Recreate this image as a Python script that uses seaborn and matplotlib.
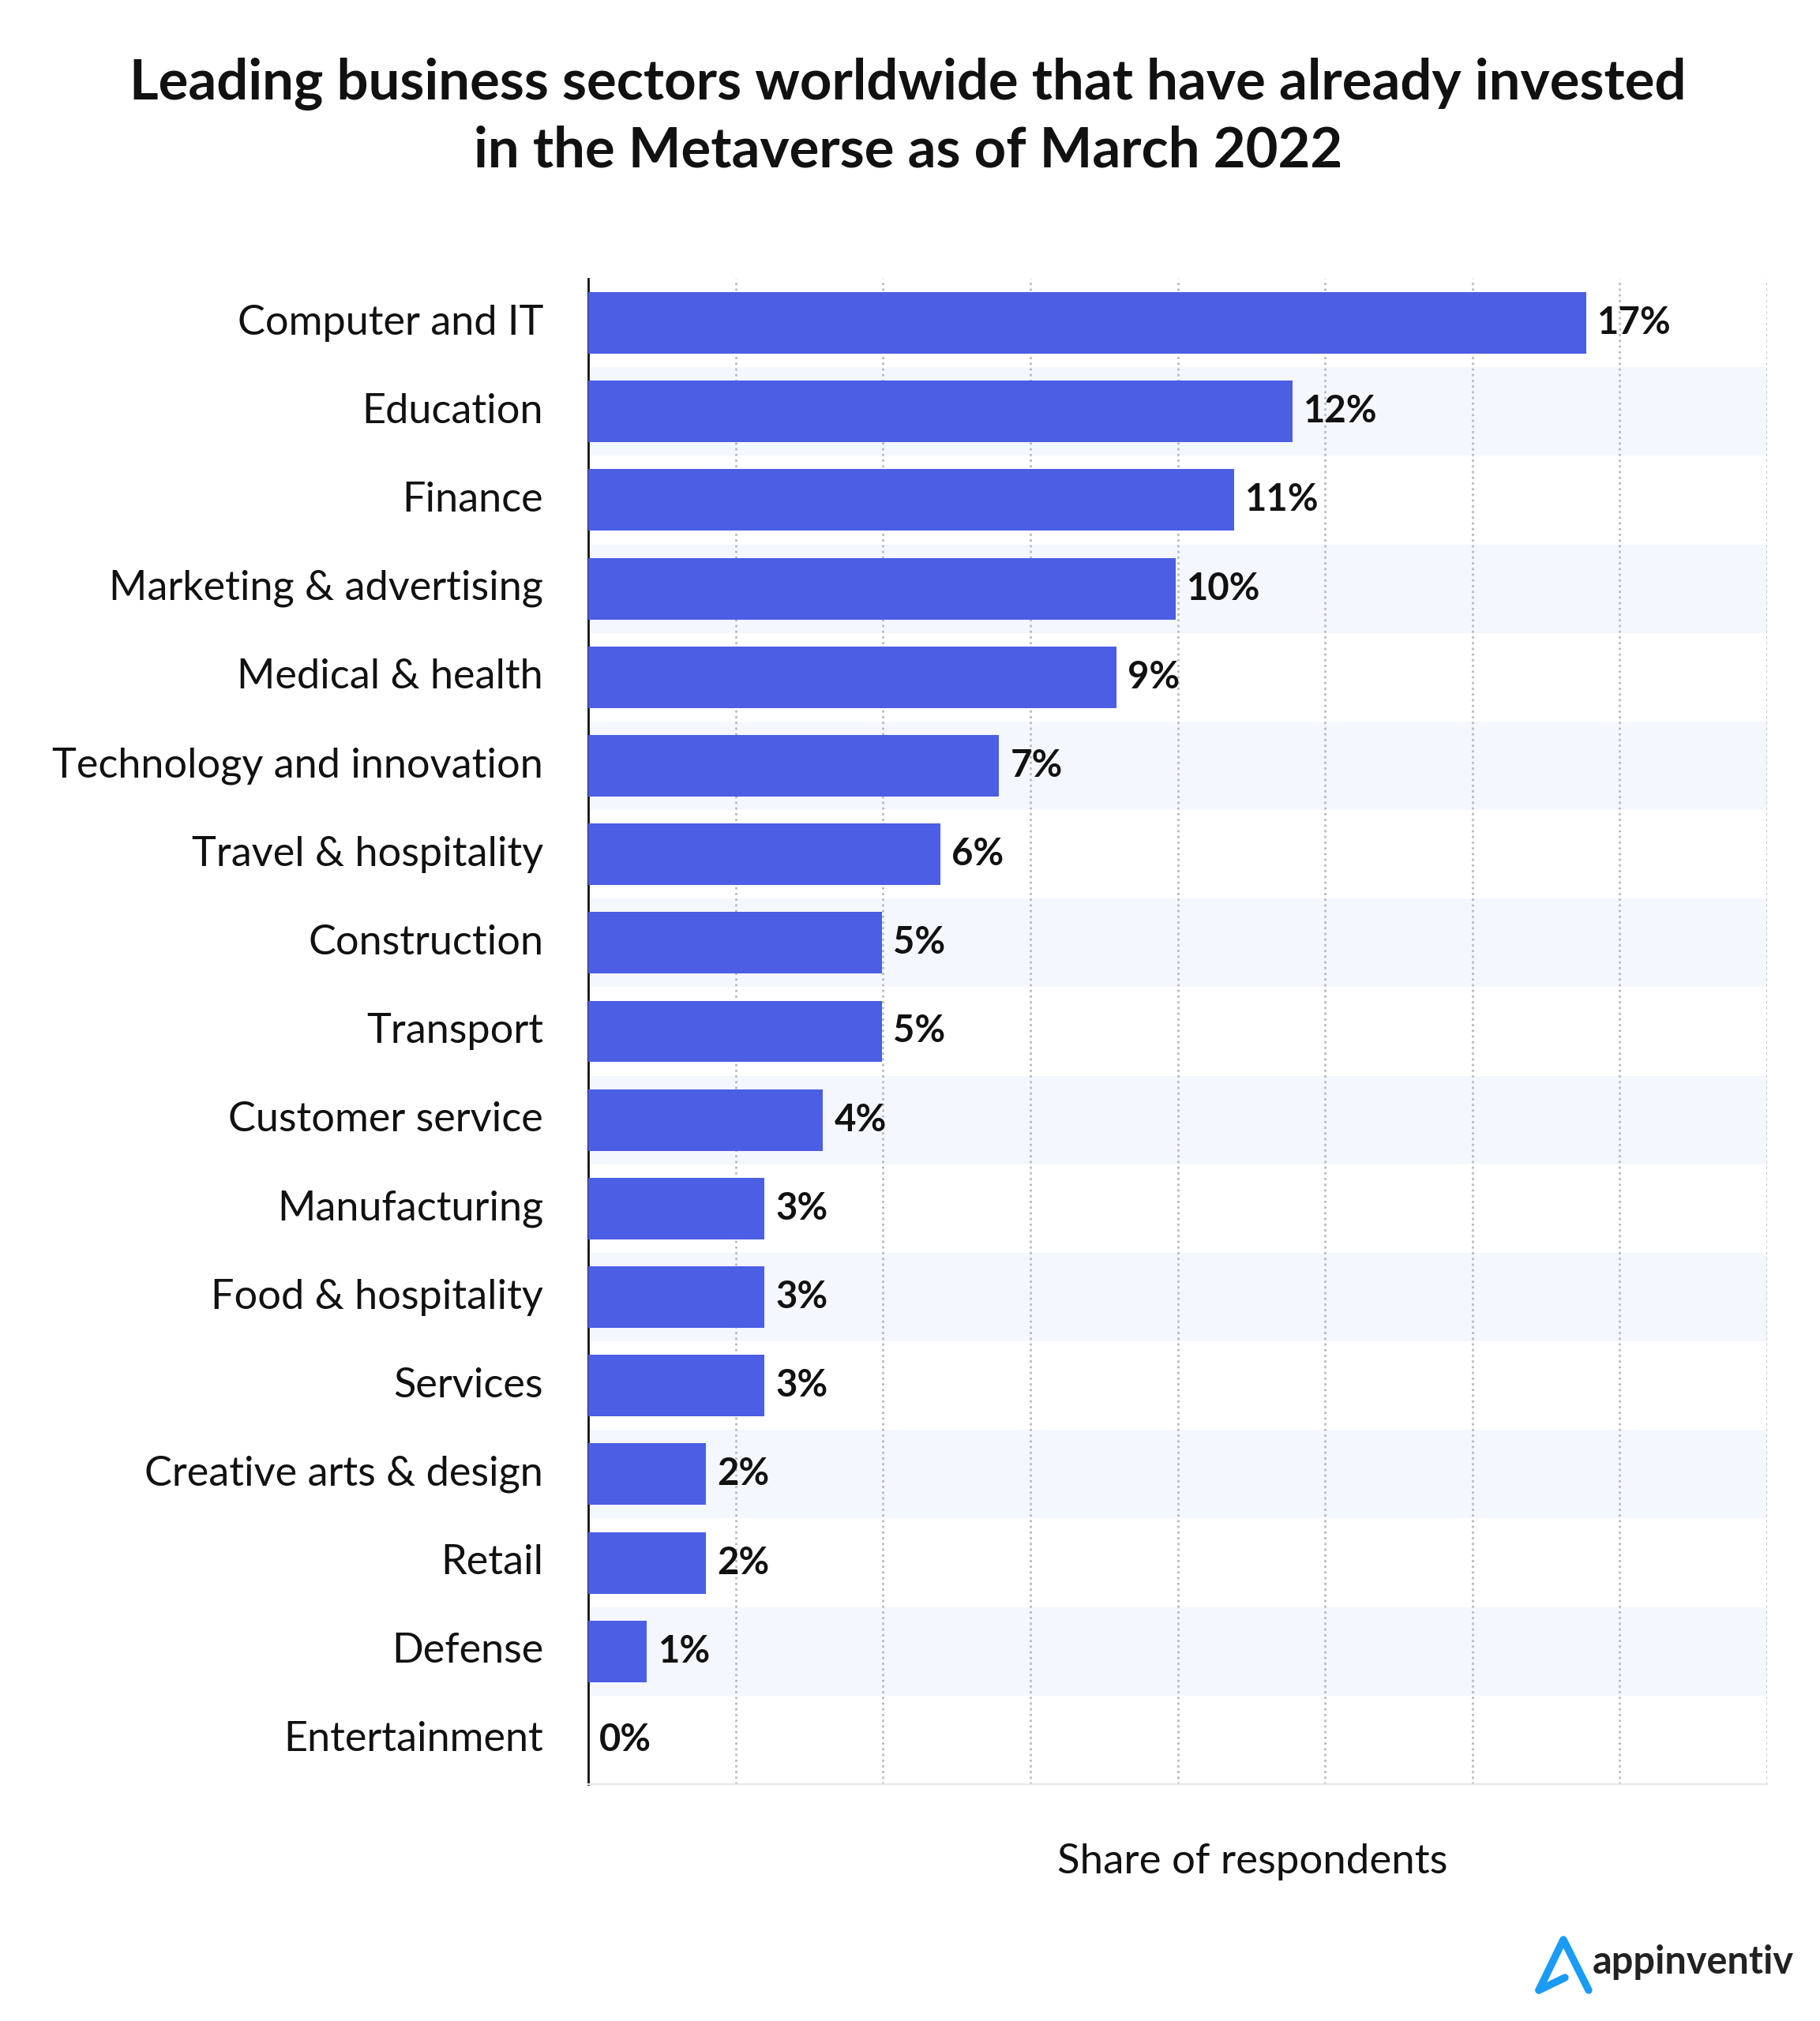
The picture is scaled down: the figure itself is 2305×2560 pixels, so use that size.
# -*- coding: utf-8 -*-

import numpy as np
import pandas as pd
import matplotlib.pylab as plt
import seaborn as sns

# %%

sectors = ['Computer and IT', 'Education', 'Finance', 'Marketing & advertising',
           'Medical & health', 'Technology and innovation', 'Travel & hospitality',
           'Construction', 'Transport', 'Customer service', 'Manufacturing',
           'Food & hospitality', 'Services', 'Creative arts & design', 'Retail',
           'Defense', 'Entertainment']
share = [17, 12, 11, 10, 9, 7, 6, 5, 5, 4, 3, 3, 3, 2, 2, 1, 0]

title = 'Leading business sectors worldwide that have already invested\nin the Metaverse as of March 2022'

data = pd.DataFrame({'sector': sectors, 'share': share})

# %% PLOT

sns.set(style='white', font_scale=1)
plt.rcParams['font.family'] = ['Lato', 'DejaVu Sans']

plt.figure(figsize=(23.05, 25.6), dpi=100)
plt.subplots_adjust(left=745/2305, right=2238/2305, top=1-353/2560, bottom=1-2260/2560)

x_max = 20.08

sns.barplot(data=data, x='share', y='sector', color='#4B5EE4', saturation=1,
            width=0.695, zorder=3, linewidth=0)

# stripes behind every second row
for row in range(1, len(sectors), 2):
    plt.axhspan(row-0.5, row+0.5, color='#F5F7FE', lw=0, zorder=0)

# dotted grid
for g in np.linspace(0, x_max, 9)[1:]:
    plt.axvline(g, color='#B9B9BE', lw=2, ls=(0, (1, 1.6)), zorder=1)

for i, v in enumerate(share):
    plt.text(v + 0.19, i, str(v) + '%', va='center', ha='left', fontsize=34,
             fontweight='bold', color='#111111', zorder=4)

plt.xlim(0, x_max)
plt.ylim(len(sectors)-0.5, -0.5)
plt.xticks([])
plt.yticks(va='center')
plt.tick_params(axis='y', length=0, pad=41, labelsize=37.6, labelcolor='#111111')
plt.ylabel('')
plt.xlabel('Share of respondents', fontsize=38, color='#111111', labelpad=54,
           x=(1586-745)/1493)

sns.despine(top=True, right=True)
plt.gca().spines['left'].set_color('#111111')
plt.gca().spines['left'].set_linewidth(2)
plt.gca().spines['bottom'].set_color('#E6E6E6')
plt.gca().spines['bottom'].set_linewidth(1.5)

plt.figtext(1150/2305, 1-148/2560, title, ha='center', va='center', fontsize=50.9,
            fontweight='bold', color='#111111', linespacing=1.35)

# logo
plt.axes([0, 0, 1, 1], facecolor='none')
plt.plot([1949, 1980, 2012], [2521, 2457, 2521], color='#1A9BF5', lw=6.8,
         solid_capstyle='round', solid_joinstyle='round')
plt.plot([1949, 1982], [2521, 2505], color='#1A9BF5', lw=6.8, solid_capstyle='round')
plt.text(2017, 2500, 'appinventiv', fontsize=35, fontweight='bold', color='#222222',
         va='baseline', ha='left')
plt.xlim(0, 2305)
plt.ylim(2560, 0)
plt.axis('off')

plt.savefig('out.png', dpi=100)
plt.close()
